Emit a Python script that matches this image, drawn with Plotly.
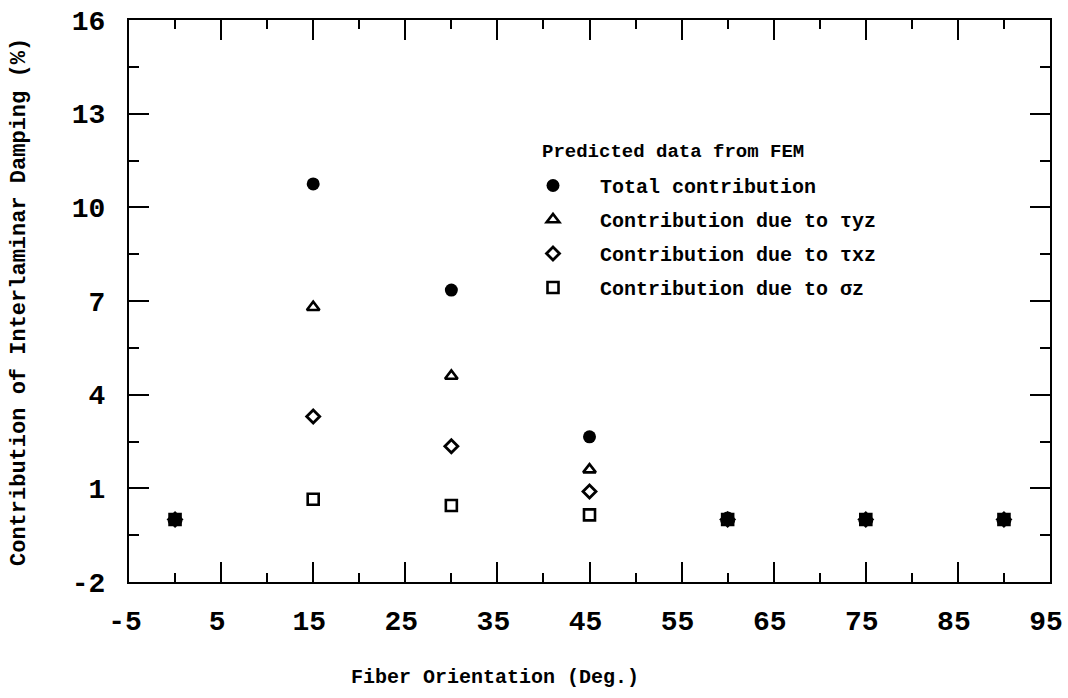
import plotly.graph_objects as go

angles = [0, 15, 30, 45, 60, 75, 90]
total = [0.0, 10.75, 7.35, 2.65, 0.05, 0.0, 0.0]
tau_yz = [0.0, 6.8, 4.6, 1.6, 0.0, 0.0, 0.0]
tau_xz = [0.0, 3.3, 2.35, 0.9, 0.0, 0.0, 0.0]
sigma_z = [0.0, 0.65, 0.45, 0.15, 0.0, 0.0, 0.0]

x_ticks = [-5, 5, 15, 25, 35, 45, 55, 65, 75, 85, 95]
y_ticks = [-2, 1, 4, 7, 10, 13, 16]

FONT = "Liberation Mono"
W, H = 1068, 698
# plot area in screen pixels
L, R, T, B = 129, 1050, 20, 582
PW, PH = R - L, B - T


def px(xs):
    return (xs - L) / PW


def py(ys):
    return (B - ys) / PH


fig = go.Figure()
series = [
    ("Total contribution", total, dict(symbol="circle", size=13, color="black")),
    ("Contribution due to τyz", tau_yz,
     dict(symbol="triangle-up-open", size=11, color="black", line=dict(width=2.6, color="black"))),
    ("Contribution due to τxz", tau_xz,
     dict(symbol="diamond-open", size=10, color="black", line=dict(width=2.8, color="black"))),
    ("Contribution due to σz", sigma_z,
     dict(symbol="square-open", size=11, color="black", line=dict(width=2.6, color="black"))),
]
for i, (name, vals, mk) in enumerate(series):
    fig.add_trace(go.Scatter(x=angles, y=vals, mode="markers", name=name,
                             marker=mk, legendgroup=f"g{i}"))

axis_common = dict(showgrid=False, zeroline=False, showline=True, linecolor="black",
                   linewidth=2, mirror="ticks", ticks="inside", tickcolor="black",
                   tickwidth=2, ticklen=20, automargin=False, ticklabeloverflow="allow",
                   tickfont=dict(family=FONT, size=28, color="black", weight="bold"))

fig.update_xaxes(range=[-5, 95], tickvals=x_ticks, ticktext=[str(v) for v in x_ticks],
                 minor=dict(dtick=5, tick0=0, ticks="inside", ticklen=9, tickwidth=2,
                            tickcolor="black"),
                 ticklabelstandoff=12, ticklabelshift=-4,
                 **axis_common)
fig.update_yaxes(range=[-2, 16], tickvals=y_ticks, ticktext=[str(v) for v in y_ticks],
                 minor=dict(dtick=1.5, tick0=-2, ticks="inside", ticklen=10, tickwidth=2,
                            tickcolor="black"),
                 ticklabelstandoff=16,
                 **axis_common)

fig.add_annotation(text="Fiber Orientation (Deg.)", xref="paper", yref="paper",
                   x=px(495), y=py(678), showarrow=False,
                   font=dict(family=FONT, size=20, color="black", weight="bold"),
                   xanchor="center", yanchor="middle")
fig.add_annotation(text="Contribution of Interlaminar Damping (%)", xref="paper", yref="paper",
                   x=px(19), y=py(302), showarrow=False, textangle=-90,
                   font=dict(family=FONT, size=22, color="black", weight="bold"),
                   xanchor="center", yanchor="middle")
fig.add_annotation(text="Predicted data from FEM", xref="paper", yref="paper",
                   x=px(540), y=py(152), showarrow=False,
                   font=dict(family=FONT, size=19, color="black", weight="bold"),
                   xanchor="left", yanchor="middle")

fig.update_layout(
    width=W, height=H,
    margin=dict(l=L, r=W - R, t=T, b=H - B),
    paper_bgcolor="white", plot_bgcolor="white",
    showlegend=True,
    legend=dict(x=px(506), y=py(166), xanchor="left", yanchor="top",
                bgcolor="rgba(0,0,0,0)", tracegroupgap=5,
                font=dict(family=FONT, size=20, color="black", weight="bold"),
                itemwidth=84),
)

fig.write_html("out.html", config={"displayModeBar": False},
               post_script="document.body.style.margin='0';")
